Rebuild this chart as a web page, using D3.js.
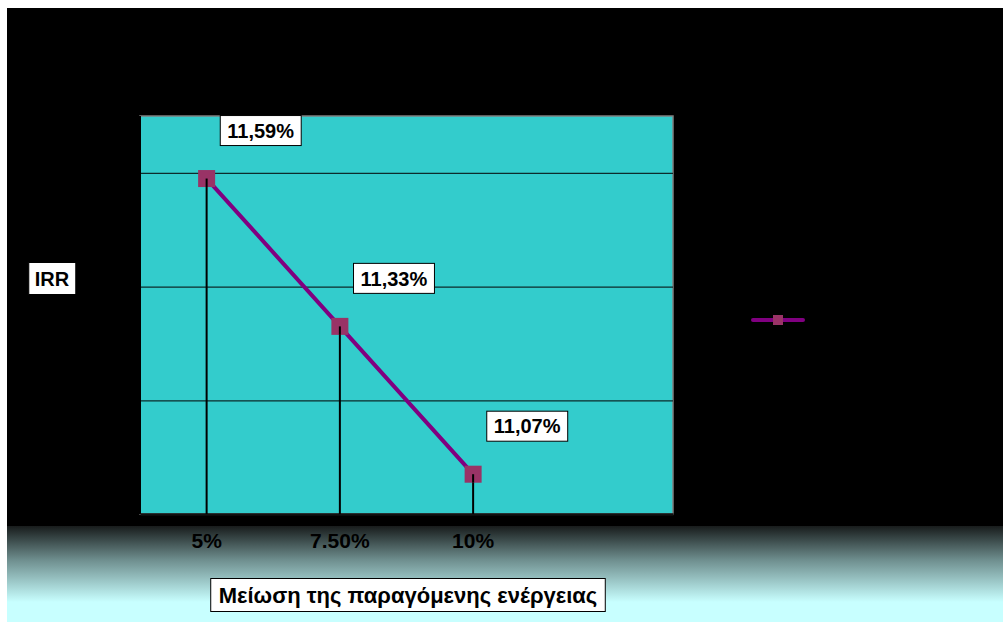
<!DOCTYPE html>
<html>
<head>
<meta charset="utf-8">
<title>IRR - Μείωση της παραγόμενης ενέργειας</title>
<script src="https://d3js.org/d3.v7.min.js"></script>
<style>
  html, body { margin: 0; padding: 0; background: #ffffff; }
  svg { display: block; font-family: "Liberation Sans", Arial, sans-serif; }
</style>
</head>
<body>
<script>
// chart values
var categories = ["5%", "7.50%", "10%"];
var irrValues = [11.59, 11.33, 11.07];
var valueLabels = ["11,59%", "11,33%", "11,07%"];
var yTicks = [11.0, 11.2, 11.4, 11.6];
var yDomain = [11.0, 11.7];
var slotCount = 4;            // the category axis has one empty slot on the right
var yTitle = "IRR";
var xTitle = "Μείωση της παραγόμενης ενέργειας";

var W = 1003, H = 623;
var plot = {left: 140, top: 116, right: 673, bottom: 514};

var svg = d3.select("body").append("svg")
    .attr("width", W)
    .attr("height", H);

// background: black chart area fading to light cyan at the bottom
var defs = svg.append("defs");
var grad = defs.append("linearGradient")
    .attr("id", "bgFade")
    .attr("gradientUnits", "userSpaceOnUse")
    .attr("x1", 0).attr("y1", 526)
    .attr("x2", 0).attr("y2", 602);
grad.append("stop").attr("offset", 0).attr("stop-color", "#181c1c");
grad.append("stop").attr("offset", 0.45).attr("stop-color", "#6f8f8f");
grad.append("stop").attr("offset", 1).attr("stop-color", "#c8ffff");

svg.append("rect")
    .attr("x", 7).attr("y", 8)
    .attr("width", W - 7).attr("height", 526 - 8)
    .attr("fill", "#000");
svg.append("rect")
    .attr("x", 7).attr("y", 526)
    .attr("width", W - 7).attr("height", H - 1 - 526)
    .attr("fill", "url(#bgFade)");

// scales
var x = d3.scaleBand()
    .domain(d3.range(slotCount))
    .range([plot.left, plot.right]);
var cx = function(i) { return x(i) + x.bandwidth() / 2; };

var y = d3.scaleLinear()
    .domain(yDomain)
    .range([plot.bottom, plot.top]);

// plot area
svg.append("rect")
    .attr("x", plot.left).attr("y", plot.top)
    .attr("width", plot.right - plot.left)
    .attr("height", plot.bottom - plot.top)
    .attr("fill", "#33cccc")
    .attr("stroke", "#808080")
    .attr("stroke-width", 1.5);

// gridlines
var grid = svg.append("g")
    .attr("transform", "translate(" + plot.left + ",0)")
    .call(d3.axisLeft(y)
        .tickValues(yTicks.filter(function(t) { return t > yDomain[0]; }))
        .tickSize(-(plot.right - plot.left))
        .tickFormat(""));
grid.select(".domain").remove();
grid.selectAll(".tick line")
    .attr("stroke", "#0d2b2b")
    .attr("stroke-width", 1.2);

// left axis (black on black, no labels)
svg.append("line")
    .attr("x1", plot.left).attr("x2", plot.left)
    .attr("y1", plot.top).attr("y2", plot.bottom)
    .attr("stroke", "#000").attr("stroke-width", 2);

// category axis
var xAxis = svg.append("g")
    .attr("transform", "translate(0," + plot.bottom + ")")
    .call(d3.axisBottom(x)
        .tickValues(d3.range(categories.length))
        .tickSize(0)
        .tickPadding(19)
        .tickFormat(function(i) { return categories[i]; }));
xAxis.select(".domain")
    .attr("stroke", "#111")
    .attr("stroke-width", 2.5);
xAxis.selectAll(".tick text")
    .attr("fill", "#000")
    .style("font-size", "21px")
    .style("font-weight", "bold")
    .style("font-family", "'Liberation Sans', Arial, sans-serif");

// drop lines
svg.append("g").selectAll("line")
    .data(irrValues)
    .join("line")
    .attr("x1", function(d, i) { return cx(i); })
    .attr("x2", function(d, i) { return cx(i); })
    .attr("y1", function(d) { return y(d); })
    .attr("y2", plot.bottom)
    .attr("stroke", "#000")
    .attr("stroke-width", 2);

// series line
var line = d3.line()
    .x(function(d, i) { return cx(i); })
    .y(function(d) { return y(d); });

svg.append("path")
    .datum(irrValues)
    .attr("d", line)
    .attr("fill", "none")
    .attr("stroke", "#800080")
    .attr("stroke-width", 4);

// markers
var mk = 17;
svg.append("g").selectAll("rect")
    .data(irrValues)
    .join("rect")
    .attr("x", function(d, i) { return cx(i) - mk / 2; })
    .attr("y", function(d) { return y(d) - mk / 2; })
    .attr("width", mk).attr("height", mk)
    .attr("fill", "#993366");

// drop lines show through the marker centre
svg.append("g").selectAll("line")
    .data(irrValues)
    .join("line")
    .attr("x1", function(d, i) { return cx(i); })
    .attr("x2", function(d, i) { return cx(i); })
    .attr("y1", function(d) { return y(d); })
    .attr("y2", function(d) { return y(d) + mk / 2; })
    .attr("stroke", "#000")
    .attr("stroke-width", 2);

// boxed text helper
function boxedText(g, cxp, cyp, txt, size, padX, boxH) {
    var grp = g.append("g");
    var r = grp.append("rect")
        .attr("fill", "#fff")
        .attr("stroke", "#000")
        .attr("stroke-width", 1);
    var t = grp.append("text")
        .attr("x", cxp)
        .attr("y", cyp)
        .attr("dy", "0.36em")
        .attr("text-anchor", "middle")
        .style("font-size", size + "px")
        .style("font-weight", "bold")
        .attr("fill", "#000")
        .text(txt);
    var bb = t.node().getBBox();
    r.attr("x", bb.x - padX)
        .attr("y", cyp - boxH / 2)
        .attr("width", bb.width + 2 * padX)
        .attr("height", boxH);
    return grp;
}

// data labels
var labelG = svg.append("g");
irrValues.forEach(function(d, i) {
    boxedText(labelG, cx(i) + 54, y(d) - 48, valueLabels[i], 20, 7, 30);
});

// axis titles
boxedText(svg, 52, 278.5, yTitle, 20, 6, 32);
boxedText(svg, 408, 595, xTitle, 22, 8, 33);

// legend (entry without text)
var leg = svg.append("g").attr("transform", "translate(778,320)");
leg.append("line")
    .attr("x1", -25).attr("x2", 25)
    .attr("y1", 0).attr("y2", 0)
    .attr("stroke", "#800080")
    .attr("stroke-width", 4)
    .attr("stroke-linecap", "round");
leg.append("rect")
    .attr("x", -5).attr("y", -5)
    .attr("width", 10).attr("height", 10)
    .attr("fill", "#993366");
</script>
</body>
</html>
